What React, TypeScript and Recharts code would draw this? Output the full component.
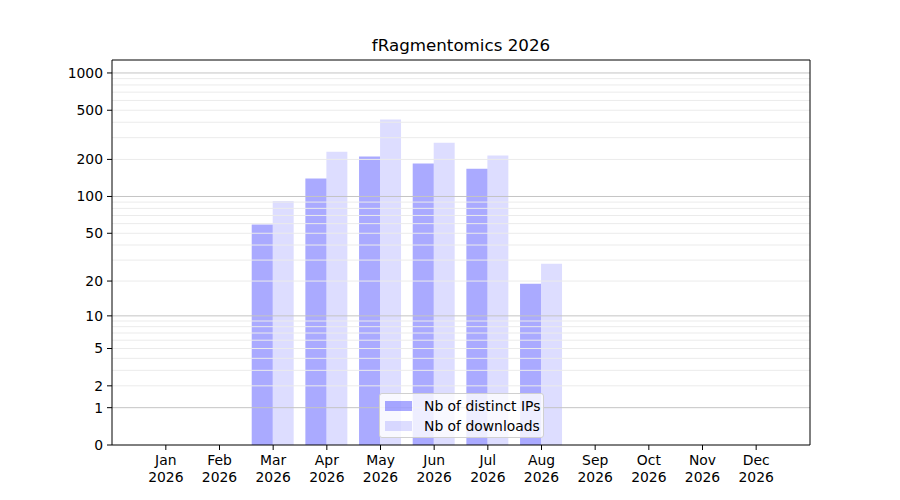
import React from "react";
import { ComposedChart, Bar, Line, XAxis, YAxis, ReferenceLine } from "recharts";

const months = ["Jan", "Feb", "Mar", "Apr", "May", "Jun", "Jul", "Aug", "Sep", "Oct", "Nov", "Dec"];
const year = "2026";
const distinctIPs = [0, 0, 59, 140, 211, 185, 168, 19, 0, 0, 0, 0];
const downloads = [0, 0, 92, 231, 420, 273, 215, 28, 0, 0, 0, 0];
const yTickValues = [0, 1, 2, 5, 10, 20, 50, 100, 200, 500, 1000];
const majorGrid = [1, 10, 100, 1000];
const minorGrid = [2, 3, 4, 5, 6, 7, 8, 9, 20, 30, 40, 50, 60, 70, 80, 90, 200, 300, 400, 500, 600, 700, 800, 900];

const tf = (v: number) => Math.log10(1 + v);
const FONT = "DejaVu Sans, sans-serif";
const Y_MAX = 3.105;

const data = months.map((m, i) => ({
  month: m,
  ips: tf(distinctIPs[i]),
  dl: tf(downloads[i]),
}));

const XTick = (props: any) => {
  const { x, y, payload } = props;
  return (
    <text x={x} y={y} textAnchor="middle" fontFamily={FONT} fontSize={13.9} fill="#000">
      <tspan x={x} dy={13}>{payload.value}</tspan>
      <tspan x={x} dy={16.5}>{year}</tspan>
    </text>
  );
};

const legendItems = [
  { label: "Nb of distinct IPs", op: 1 / 3 },
  { label: "Nb of downloads", op: 0.134 },
];

export default function App() {
  return (
    <div style={{ position: "fixed", left: 0, top: 0, width: 900, height: 500, background: "#fff" }}>
      <div
        style={{
          position: "absolute",
          left: 0,
          width: 922,
          top: 35,
          textAlign: "center",
          fontFamily: FONT,
          fontSize: 16.7,
          color: "#000",
          lineHeight: "20px",
        }}
      >
        fRagmentomics 2026
      </div>
      <ComposedChart
        width={900}
        height={500}
        data={data}
        margin={{ top: 59, right: 89, bottom: 10, left: 60 }}
        barCategoryGap="10%"
        barGap={0}
      >
        <XAxis
          dataKey="month"
          padding={{ left: 27, right: 27 }}
          height={45}
          tick={<XTick />}
          tickSize={5}
          tickLine={{ stroke: "#000" }}
          axisLine={{ stroke: "#000" }}
          interval={0}
        />
        <XAxis
          xAxisId="top"
          orientation="top"
          dataKey="month"
          padding={{ left: 27, right: 27 }}
          height={1}
          tick={false}
          tickLine={false}
          axisLine={{ stroke: "#000" }}
        />
        <YAxis
          type="number"
          domain={[0, Y_MAX]}
          allowDataOverflow
          ticks={yTickValues.map(tf)}
          tickFormatter={(v: number) => String(Math.round(Math.pow(10, v) - 1))}
          width={52}
          tickSize={5}
          tickMargin={4}
          tick={{ fontFamily: FONT, fontSize: 13.9, fill: "#000" }}
          tickLine={{ stroke: "#000" }}
          axisLine={{ stroke: "#000" }}
          interval={0}
        />
        <YAxis
          yAxisId="right"
          orientation="right"
          type="number"
          domain={[0, Y_MAX]}
          allowDataOverflow
          width={1}
          tick={false}
          tickLine={false}
          axisLine={{ stroke: "#000" }}
        />
        {minorGrid.map((g) => (
          <ReferenceLine key={"m" + g} y={tf(g)} stroke="#ebebeb" strokeWidth={1} />
        ))}
        {majorGrid.map((g) => (
          <ReferenceLine key={"M" + g} y={tf(g)} stroke="#c4c4c4" strokeWidth={1} />
        ))}
        <Bar dataKey="ips" name="Nb of distinct IPs" fill="#0000ff" fillOpacity={1 / 3} isAnimationActive={false} />
        <Bar dataKey="dl" name="Nb of downloads" fill="#0000ff" fillOpacity={0.134} isAnimationActive={false} />
        <Line
          xAxisId="top"
          yAxisId="right"
          dataKey="dl"
          stroke="none"
          strokeOpacity={0}
          dot={false}
          activeDot={false}
          legendType="none"
          isAnimationActive={false}
        />
      </ComposedChart>
      <div
        style={{
          position: "absolute",
          left: 379,
          top: 393,
          width: 165,
          height: 45,
          boxSizing: "border-box",
          border: "1px solid #d0d0d0",
          borderRadius: 3,
          background: "rgba(255,255,255,0.8)",
          fontFamily: FONT,
          fontSize: 13.9,
          color: "#000",
          padding: "2px 0 0 5px",
        }}
      >
        {legendItems.map((e) => (
          <div key={e.label} style={{ display: "flex", alignItems: "center", height: 20 }}>
            <div style={{ width: 27, height: 10, background: `rgba(0,0,255,${e.op})`, marginRight: 12, flexShrink: 0 }} />
            <span style={{ lineHeight: "16px", whiteSpace: "nowrap" }}>{e.label}</span>
          </div>
        ))}
      </div>
    </div>
  );
}
